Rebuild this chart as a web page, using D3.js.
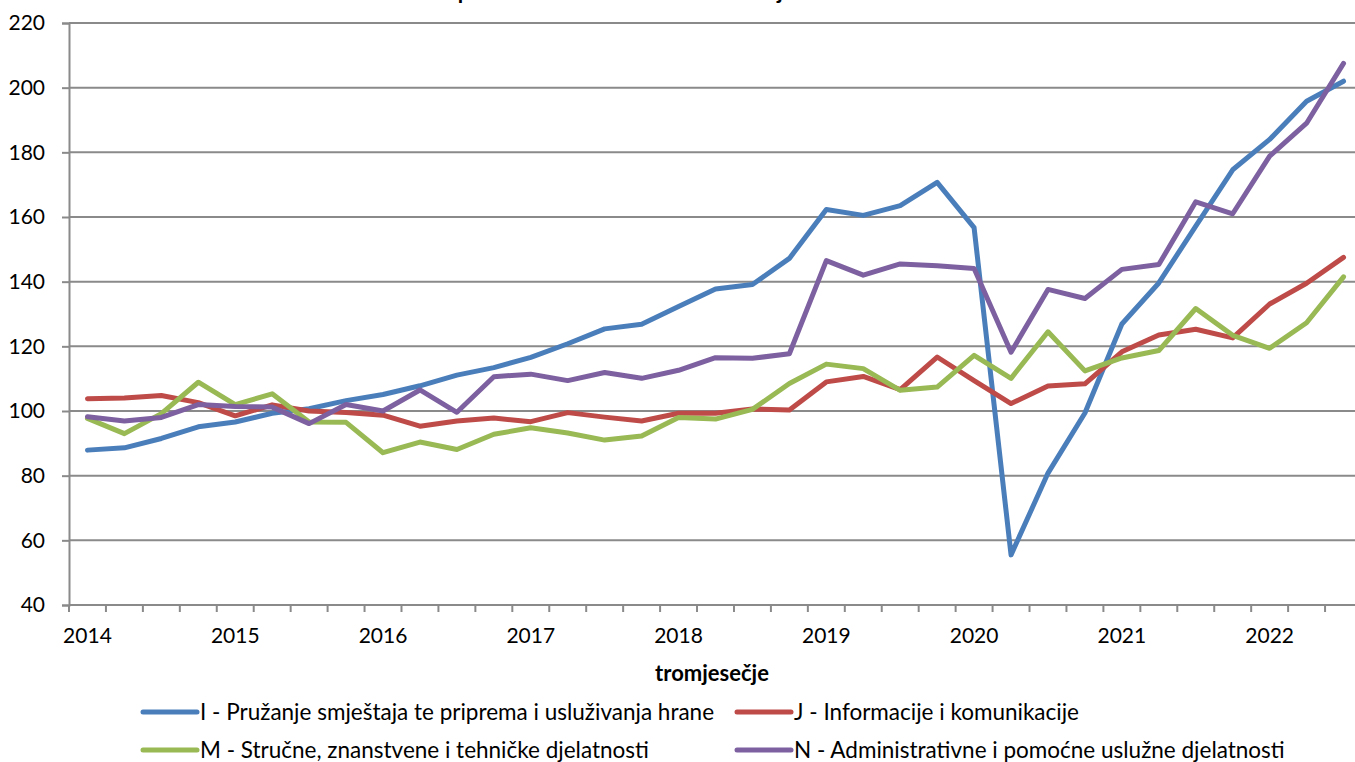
<!DOCTYPE html>
<html>
<head>
<meta charset="utf-8">
<script src="https://cdn.jsdelivr.net/npm/d3@7"></script>
<style>
  html, body { margin: 0; padding: 0; background: #ffffff; overflow: hidden; }
  svg { display: block; }
</style>
</head>
<body>
<script>
// ---------- data ----------
const categories = [
  "2014-Q1","2014-Q2","2014-Q3","2014-Q4",
  "2015-Q1","2015-Q2","2015-Q3","2015-Q4",
  "2016-Q1","2016-Q2","2016-Q3","2016-Q4",
  "2017-Q1","2017-Q2","2017-Q3","2017-Q4",
  "2018-Q1","2018-Q2","2018-Q3","2018-Q4",
  "2019-Q1","2019-Q2","2019-Q3","2019-Q4",
  "2020-Q1","2020-Q2","2020-Q3","2020-Q4",
  "2021-Q1","2021-Q2","2021-Q3","2021-Q4",
  "2022-Q1","2022-Q2","2022-Q3"
];
const tickLabels = [
  "2014","","","","2015","","","","2016","","","","2017","","","",
  "2018","","","","2019","","","","2020","","","","2021","","","",
  "2022","",""
];
const seriesNames = [
  "I - Pružanje smještaja te priprema i usluživanja hrane",
  "J - Informacije i komunikacije",
  "M - Stručne, znanstvene i tehničke djelatnosti",
  "N - Administrativne i pomoćne uslužne djelatnosti"
];
const valuesI = [87.9, 88.6, 91.5, 95.1, 96.6, 99.3, 100.7, 103.2, 105.1, 107.8, 111.1, 113.4, 116.6, 120.8, 125.4, 126.8, 132.3, 137.7, 139.1, 147.2, 162.3, 160.5, 163.5, 170.7, 156.7, 55.5, 80.8, 99.4, 126.9, 139.6, 157.2, 174.6, 184.0, 195.8, 202.0];
const valuesJ = [103.8, 104.0, 104.8, 102.6, 98.5, 101.9, 100.0, 99.5, 98.7, 95.3, 96.9, 97.8, 96.7, 99.5, 98.1, 96.9, 99.3, 99.3, 100.6, 100.3, 109.0, 110.7, 106.6, 116.7, 109.4, 102.3, 107.7, 108.4, 118.3, 123.5, 125.3, 122.6, 133.1, 139.5, 147.5];
const valuesM = [97.7, 93.0, 99.2, 108.9, 102.0, 105.3, 96.6, 96.5, 87.1, 90.4, 88.1, 92.8, 94.8, 93.2, 91.0, 92.3, 98.0, 97.5, 100.5, 108.5, 114.5, 113.1, 106.4, 107.4, 117.2, 110.1, 124.5, 112.4, 116.4, 118.7, 131.7, 123.4, 119.4, 127.3, 141.5];
const valuesN = [98.2, 96.9, 98.0, 102.0, 101.4, 101.2, 96.1, 102.0, 100.0, 106.5, 99.6, 110.6, 111.4, 109.4, 111.9, 110.1, 112.6, 116.5, 116.3, 117.7, 146.5, 142.0, 145.5, 144.9, 144.1, 118.2, 137.6, 134.8, 143.8, 145.3, 164.7, 161.0, 178.8, 189.0, 207.5];
const yTicks = [40, 60, 80, 100, 120, 140, 160, 180, 200, 220];
const colors = ["#4a7ebb", "#be4b48", "#98b954", "#7d60a0"];
const xTitle = "tromjesečje";
const chartTitle = "Indeksi prometa u odabranim uslužnim djelatnostima";

// ---------- layout ----------
const W = 1355, H = 762;
const mLeft = 69, mTop = 23, plotBottom = 605, plotRight = 1362;
const font = "Lato, 'Open Sans', 'Liberation Sans', sans-serif";

const svg = d3.select("body").append("svg")
  .attr("width", W).attr("height", H)
  .style("font-family", font);

const x = d3.scaleBand().domain(categories).range([mLeft, plotRight]).padding(0);
const y = d3.scaleLinear().domain([40, 220]).range([plotBottom, mTop]);

// title (cut off at the top edge, as in the reference)
svg.append("text")
  .attr("x", 640).attr("y", -1)
  .attr("text-anchor", "middle")
  .attr("font-weight", "bold").attr("font-size", 22)
  .attr("fill", "#000")
  .text(chartTitle);

// gridlines
svg.append("g").selectAll("line").data(yTicks).join("line")
  .attr("x1", mLeft).attr("x2", plotRight)
  .attr("y1", d => y(d)).attr("y2", d => y(d))
  .attr("stroke", "#8a8a8a").attr("stroke-width", 2);

// y axis
const yAxis = d3.axisLeft(y).tickValues(yTicks).tickSize(7).tickPadding(17).tickFormat(d3.format("d"));
const gy = svg.append("g").attr("transform", `translate(${mLeft},0)`).call(yAxis);
gy.select(".domain").attr("stroke", "#8a8a8a").attr("stroke-width", 2);
gy.selectAll(".tick line").attr("stroke", "#8a8a8a").attr("stroke-width", 2);
gy.selectAll("text").attr("font-size", 21).attr("fill", "#000").style("font-family", font);

// x axis: ticks between categories
const boundaries = categories.map(c => x(c)).concat([plotRight]);
svg.append("line")
  .attr("x1", mLeft).attr("x2", plotRight)
  .attr("y1", plotBottom).attr("y2", plotBottom)
  .attr("stroke", "#8a8a8a").attr("stroke-width", 2);
svg.append("g").selectAll("line").data(boundaries).join("line")
  .attr("x1", d => d).attr("x2", d => d)
  .attr("y1", plotBottom).attr("y2", plotBottom + 7)
  .attr("stroke", "#8a8a8a").attr("stroke-width", 2);
svg.append("g").selectAll("text").data(categories).join("text")
  .attr("x", d => x(d) + x.bandwidth() / 2)
  .attr("y", 643)
  .attr("text-anchor", "middle")
  .attr("font-size", 21).attr("fill", "#000")
  .text((d, i) => tickLabels[i]);

// x title
svg.append("text")
  .attr("x", 712).attr("y", 681)
  .attr("text-anchor", "middle")
  .attr("font-weight", "bold").attr("font-size", 22)
  .attr("fill", "#000")
  .text(xTitle);

// lines
const allSeries = [valuesI, valuesJ, valuesM, valuesN];
const line = d3.line()
  .x((d, i) => x(categories[i]) + x.bandwidth() / 2)
  .y(d => y(d));
svg.append("g").selectAll("path").data(allSeries).join("path")
  .attr("d", d => line(d))
  .attr("fill", "none")
  .attr("stroke", (d, i) => colors[i])
  .attr("stroke-width", 5)
  .attr("stroke-linejoin", "round")
  .attr("stroke-linecap", "round");

// legend
const legendPos = [
  {lx: 143, ty: 712}, {lx: 737, ty: 712},
  {lx: 143, ty: 750}, {lx: 737, ty: 750}
];
const lg = svg.append("g").selectAll("g").data(seriesNames).join("g")
  .attr("transform", (d, i) => `translate(${legendPos[i].lx},${legendPos[i].ty})`);
lg.append("line")
  .attr("x1", 0).attr("x2", 54).attr("y1", 0).attr("y2", 0)
  .attr("stroke", (d, i) => colors[i]).attr("stroke-width", 5)
  .attr("stroke-linecap", "round");
lg.append("text")
  .attr("x", 57).attr("y", 0).attr("dy", "0.35em")
  .attr("font-size", 22.5).attr("fill", "#000")
  .text(d => d);
</script>
</body>
</html>
